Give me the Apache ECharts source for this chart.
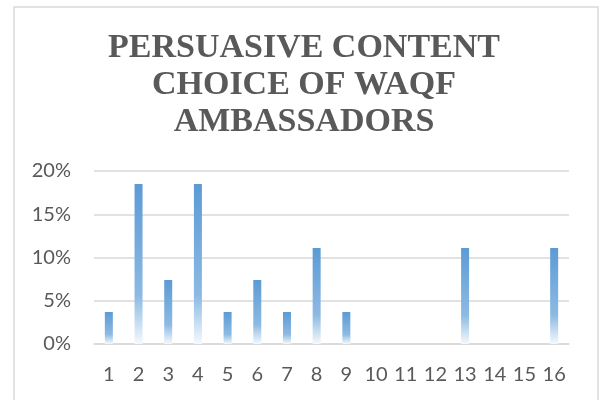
<!DOCTYPE html>
<html>
<head>
<meta charset="utf-8">
<script src="https://cdn.jsdelivr.net/npm/echarts@6/dist/echarts.min.js"></script>
<style>
html,body{margin:0;padding:0;background:#fff;}
#chart{width:601px;height:400px;}
</style>
</head>
<body>
<div id="chart"></div>
<script>
var titleText = "PERSUASIVE CONTENT\nCHOICE OF WAQF\nAMBASSADORS";
var categories = ["1","2","3","4","5","6","7","8","9","10","11","12","13","14","15","16"];
var shares = [0.037, 0.185, 0.074, 0.185, 0.037, 0.074, 0.037, 0.111, 0.037, 0, 0, 0, 0.111, 0, 0, 0.111];
var yTicks = [0, 0.05, 0.10, 0.15, 0.20];

var chart = echarts.init(document.getElementById('chart'), null, {renderer: 'canvas'});
chart.setOption({
  backgroundColor: '#ffffff',
  animation: false,
  textStyle: {fontFamily: 'Lato'},
  graphic: [{
    type: 'rect',
    shape: {x: 14, y: 7, width: 584, height: 400},
    style: {fill: 'none', stroke: '#d9d9d9', lineWidth: 1.5},
    silent: true
  }],
  title: {
    text: titleText,
    left: 304,
    top: 30,
    padding: 0,
    textAlign: 'center',
    textStyle: {
      fontFamily: 'Liberation Serif',
      fontWeight: 'bold',
      fontSize: 34,
      lineHeight: 37,
      color: '#595959'
    }
  },
  grid: {left: 94, right: 32, top: 171, bottom: 56, containLabel: false},
  xAxis: {
    type: 'category',
    data: categories,
    axisLine: {lineStyle: {color: '#d9d9d9', width: 1.5}},
    axisTick: {show: false},
    axisLabel: {color: '#595959', fontFamily: 'Lato', fontSize: 20, margin: 21, interval: 0}
  },
  yAxis: {
    type: 'value',
    min: yTicks[0],
    max: yTicks[yTicks.length - 1],
    interval: yTicks[1] - yTicks[0],
    axisLine: {show: false},
    axisTick: {show: false},
    splitLine: {lineStyle: {color: '#d9d9d9', width: 1.5}},
    axisLabel: {
      color: '#595959', fontFamily: 'Lato', fontSize: 20, margin: 23,
      formatter: function (v) { return Math.round(v * 100) + '%'; }
    }
  },
  series: [{
    type: 'bar',
    data: shares,
    barWidth: 8,
    itemStyle: {
      color: new echarts.graphic.LinearGradient(0, 0, 0, 1, [
        {offset: 0, color: '#5b9bd5'},
        {offset: 0.7, color: '#8dbae3'},
        {offset: 1, color: '#f5f9fd'}
      ])
    }
  }]
});
</script>
</body>
</html>
